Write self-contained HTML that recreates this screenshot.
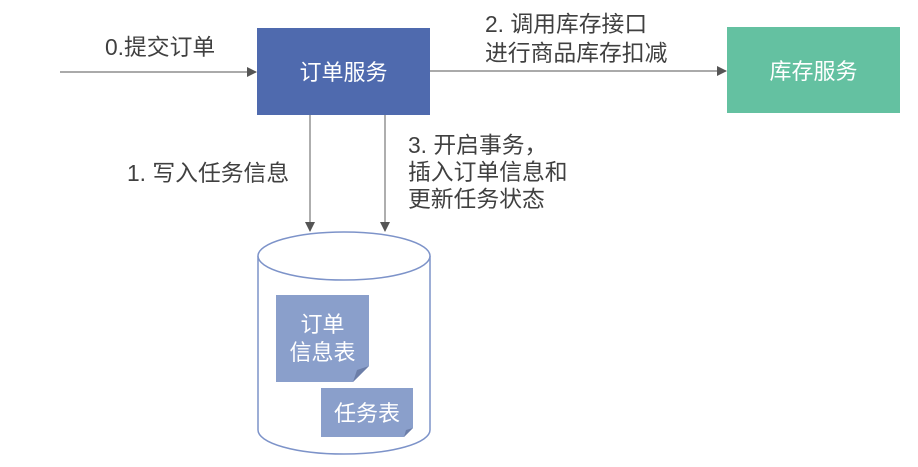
<!DOCTYPE html>
<html><head><meta charset="utf-8"><style>
html,body{margin:0;padding:0;background:#fff;}
svg text{font-family:"Liberation Sans","Noto Sans CJK SC",sans-serif;}
</style></head><body>
<svg width="918" height="462" viewBox="0 0 918 462" xmlns="http://www.w3.org/2000/svg">
<defs>
<marker id="a" markerWidth="10" markerHeight="10" refX="9" refY="5" orient="auto" markerUnits="userSpaceOnUse">
<path d="M0,0 L10,5 L0,10 z" fill="#555"/></marker>
</defs>
<line x1="60" y1="72" x2="256" y2="72" stroke="#777" stroke-width="1.2" marker-end="url(#a)"/>
<line x1="430" y1="71" x2="726" y2="71" stroke="#777" stroke-width="1.2" marker-end="url(#a)"/>
<line x1="310" y1="115" x2="310" y2="231" stroke="#777" stroke-width="1.2" marker-end="url(#a)"/>
<line x1="385" y1="115" x2="385" y2="231" stroke="#777" stroke-width="1.2" marker-end="url(#a)"/>
<rect x="257" y="28" width="173" height="87" fill="#4f6aae"/>
<text x="343.5" y="80" font-size="22" fill="#fff" text-anchor="middle">订单服务</text>
<rect x="727" y="27" width="173" height="86" fill="#64c1a1"/>
<text x="813.5" y="79" font-size="22" fill="#fff" text-anchor="middle">库存服务</text>
<g font-size="22.8" fill="#404040">
<text x="105" y="55">0.提交订单</text>
<text x="485" y="32">2. 调用库存接口</text>
<text x="485" y="61">进行商品库存扣减</text>
<text x="127" y="181">1. 写入任务信息</text>
<text x="408" y="153">3. 开启事务，</text>
<text x="408" y="180">插入订单信息和</text>
<text x="408" y="207">更新任务状态</text>
</g>
<path d="M258,256 L258,430 A86,24 0 0 0 430,430 L430,256" fill="#fff" stroke="#7d93c9" stroke-width="1.5"/>
<ellipse cx="344" cy="256" rx="86" ry="24" fill="#fff" stroke="#7d93c9" stroke-width="1.5"/>
<path d="M276,295 H369 V366 L353,382 H276 Z" fill="#8a9fcb"/>
<path d="M369,366 L353,382 L357,370 Z" fill="#6c7ea8"/>
<text x="322.5" y="332" font-size="22" fill="#fff" text-anchor="middle">订单</text>
<text x="322.5" y="360" font-size="22" fill="#fff" text-anchor="middle">信息表</text>
<path d="M321,388 H413 V428 L404,437 H321 Z" fill="#8a9fcb"/>
<path d="M413,428 L404,437 L406,430 Z" fill="#6c7ea8"/>
<text x="367" y="421" font-size="22" fill="#fff" text-anchor="middle">任务表</text>
</svg>
</body></html>
